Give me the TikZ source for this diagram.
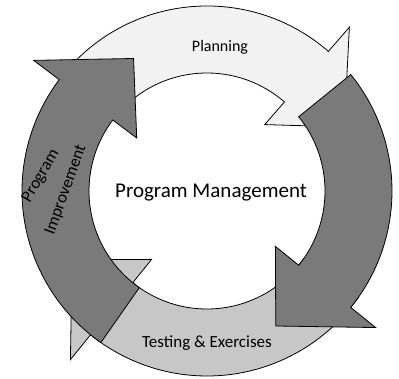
\documentclass[tikz,border=0pt]{standalone}
\usepackage{fontspec}
\setmainfont{Carlito}
% radii of the ring: outer, inner, middle, barb outer, barb inner
\def\Ro{185}
\def\Ri{118}
\def\Rm{151.5}
\def\Rb{217}
\def\Rc{88}
% curved ring arrow: #1 style, #2 tail angle, #3 head base angle, #4 tip angle
\newcommand\cyclearrow[4]{%
  \path[#1] (#2:\Ro) arc[start angle=#2, end angle=#3, radius=\Ro]
    -- (#3:\Rb) -- (#4:\Rm) -- (#3:\Rc) -- (#3:\Ri)
    arc[start angle=#3, end angle=#2, radius=\Ri] -- cycle;}
\begin{document}
\begin{tikzpicture}[x=1pt,y=1pt,
  band/.style={draw=black, line width=0.8pt, line join=miter},
  dark/.style={band, fill=black!52},
  light/.style={band, fill=black!22},
  pale/.style={band, fill=black!5},
  lbl/.style={font=\fontsize{16}{18}\selectfont, inner sep=0pt}]
\useasboundingbox (0,0) rectangle (399,379);
\begin{scope}[shift={(207,188)}]
  \cyclearrow{pale}{135}{49}{25}
  \cyclearrow{light}{-35}{-129}{-153}
  \cyclearrow{dark}{39}{-39}{-63}
  \cyclearrow{dark}{-125}{-217}{-241}
\end{scope}
\node[lbl] (plan) at (220,332) {Planning};
\node[font=\fontsize{21}{24}\selectfont] (mgmt) at (211,186) {Program Management};
\node[lbl, font=\fontsize{17}{19}\selectfont] (test) at (207,36) {Testing \& Exercises};
\node[lbl, font=\fontsize{17}{19}\selectfont, rotate=60] (impr1) at (41,203) {Program};
\node[lbl, font=\fontsize{17}{19}\selectfont, rotate=70] (impr2) at (66,189) {Improvement};
\end{tikzpicture}
\end{document}
